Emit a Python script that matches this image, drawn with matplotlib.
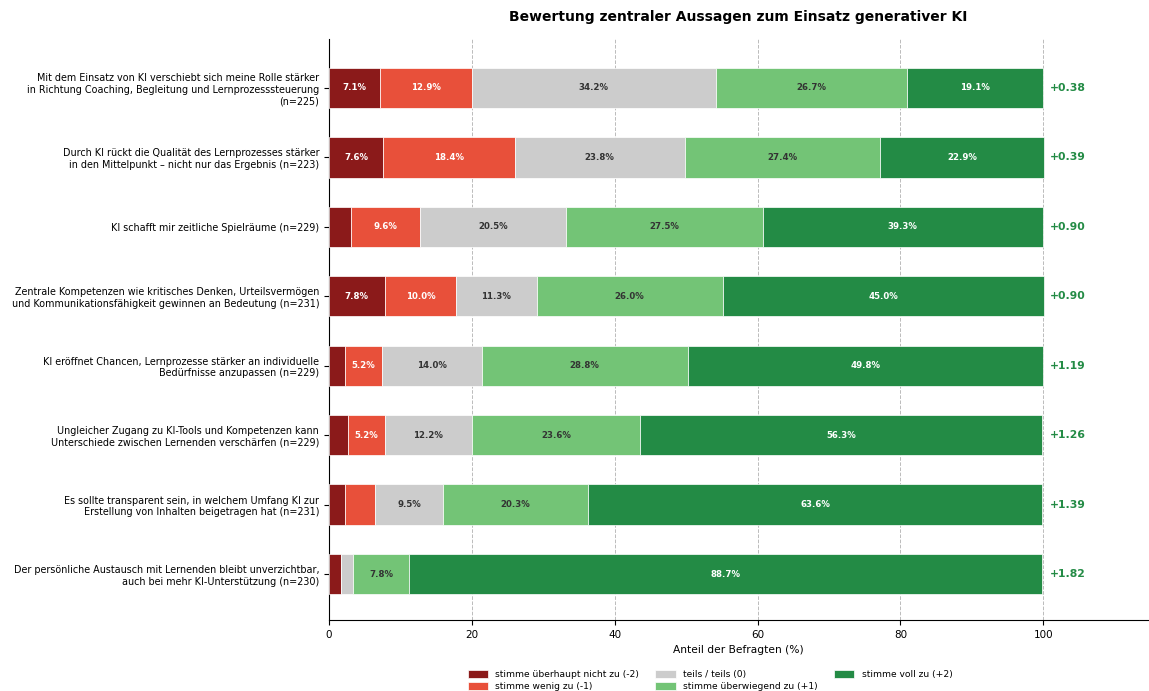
import numpy as np
import matplotlib
matplotlib.use("Agg")
import matplotlib.pyplot as plt

# Aussagen (von oben nach unten)
statements = [
    "Mit dem Einsatz von KI verschiebt sich meine Rolle stärker\nin Richtung Coaching, Begleitung und Lernprozesssteuerung\n(n=225)",
    "Durch KI rückt die Qualität des Lernprozesses stärker\nin den Mittelpunkt – nicht nur das Ergebnis (n=223)",
    "KI schafft mir zeitliche Spielräume (n=229)",
    "Zentrale Kompetenzen wie kritisches Denken, Urteilsvermögen\nund Kommunikationsfähigkeit gewinnen an Bedeutung (n=231)",
    "KI eröffnet Chancen, Lernprozesse stärker an individuelle\nBedürfnisse anzupassen (n=229)",
    "Ungleicher Zugang zu KI-Tools und Kompetenzen kann\nUnterschiede zwischen Lernenden verschärfen (n=229)",
    "Es sollte transparent sein, in welchem Umfang KI zur\nErstellung von Inhalten beigetragen hat (n=231)",
    "Der persönliche Austausch mit Lernenden bleibt unverzichtbar,\nauch bei mehr KI-Unterstützung (n=230)",
]

# Anteile in % je Antwortkategorie
minus2 = [7.1, 7.6, 3.1, 7.8, 2.2, 2.6, 2.2, 1.7]
minus1 = [12.9, 18.4, 9.6, 10.0, 5.2, 5.2, 4.3, 0.0]
neutral = [34.2, 23.8, 20.5, 11.3, 14.0, 12.2, 9.5, 1.7]
plus1 = [26.7, 27.4, 27.5, 26.0, 28.8, 23.6, 20.3, 7.8]
plus2 = [19.1, 22.9, 39.3, 45.0, 49.8, 56.3, 63.6, 88.7]

mean_scores = [0.38, 0.39, 0.90, 0.90, 1.19, 1.26, 1.39, 1.82]

categories = [
    "stimme überhaupt nicht zu (-2)",
    "stimme wenig zu (-1)",
    "teils / teils (0)",
    "stimme überwiegend zu (+1)",
    "stimme voll zu (+2)",
]
colors = ["#8b1a1a", "#e8503a", "#cccccc", "#73c476", "#238b45"]
text_colors = ["white", "white", "#333333", "#333333", "white"]

series = [minus2, minus1, neutral, plus1, plus2]

fig = plt.figure(figsize=(11.49, 6.91), dpi=100)
ax = fig.add_axes([0.2863, 0.103, 0.713, 0.84])

y = np.arange(len(statements))
left = np.zeros(len(statements))
for vals, col, tcol, lab in zip(series, colors, text_colors, categories):
    vals = np.array(vals)
    ax.barh(y, vals, left=left, height=0.58, color=col, label=lab,
            edgecolor="white", linewidth=0.5, zorder=3)
    for yi, (l, v) in enumerate(zip(left, vals)):
        if v >= 5:
            ax.text(l + v / 2, yi, f"{v:.1f}%", ha="center", va="center",
                    fontsize=6.2, fontweight="bold", color=tcol, zorder=4)
    left = left + vals

for yi, s in enumerate(mean_scores):
    ax.text(101, yi, f"{s:+.2f}", ha="left", va="center", fontsize=7.8,
            fontweight="bold", color="#238b45")

ax.set_yticks(y)
ax.set_yticklabels(statements, fontsize=6.93)
ax.set_ylim(len(statements) - 0.34, -0.7)
ax.set_xlim(0, 114.7)
ax.set_xticks([0, 20, 40, 60, 80, 100])
ax.tick_params(axis="x", labelsize=7.5)
ax.set_xlabel("Anteil der Befragten (%)", fontsize=7.7)
ax.grid(True, axis="x", linestyle="--", color="#bbbbbb", linewidth=0.7, zorder=0)
ax.spines["top"].set_visible(False)
ax.spines["right"].set_visible(False)

ax.set_title("Bewertung zentraler Aussagen zum Einsatz generativer KI",
             fontsize=10, fontweight="bold", pad=13)

ax.legend(loc="upper center", bbox_to_anchor=(0.465, -0.073), ncol=3,
          frameon=False, fontsize=6.6, handlelength=2.2, columnspacing=1.8,
          handleheight=0.9, labelspacing=0.3)

fig.savefig("out.png", dpi=100)
